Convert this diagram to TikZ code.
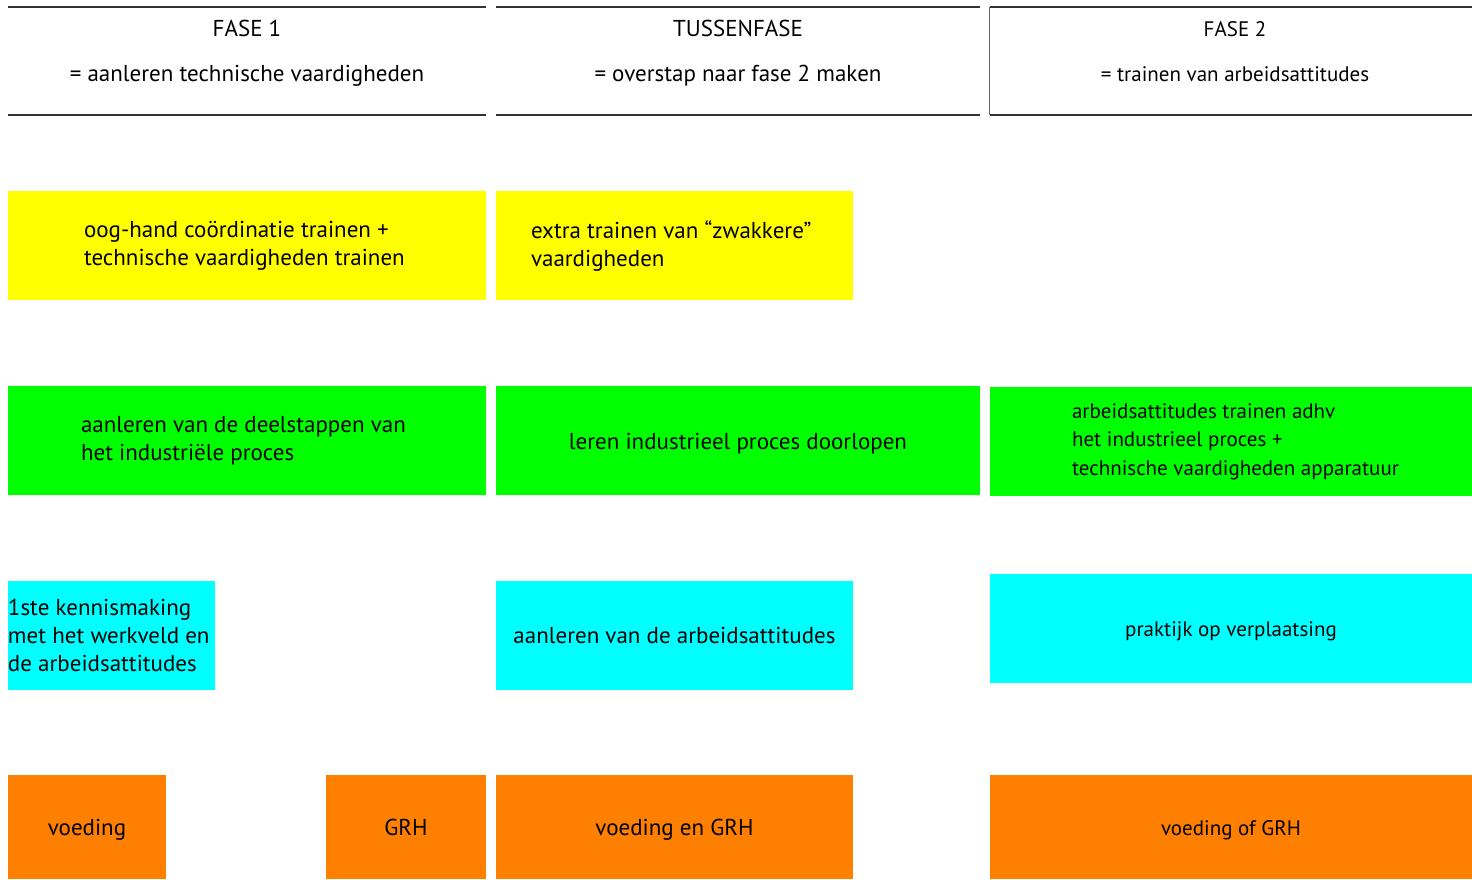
\documentclass[tikz,border=0pt]{standalone}
\usepackage{fontspec}
\setmainfont{PT Sans}
\usetikzlibrary{positioning}

\definecolor{geel}{RGB}{255,255,0}
\definecolor{groen}{RGB}{0,255,0}
\definecolor{cyaan}{RGB}{0,255,255}
\definecolor{oranje}{RGB}{255,128,0}

\begin{document}
\begin{tikzpicture}[
  x=0.5pt, y=-0.5pt,
  font=\fontsize{11.5}{14}\selectfont,
  smal/.style={font=\fontsize{10.5}{14.2}\selectfont},
  kop/.style={minimum width=#1, minimum height=54pt, inner sep=0pt},
  titel/.style={align=center, font=\fontsize{11.5}{22.5}\selectfont},
  blok/.style={minimum height=54.5pt, inner sep=0pt, align=center},
  regel/.style={text height=9pt, text depth=0.5pt},
  tekst/.style={align=left, inner sep=0pt},
  lijn/.style={draw=black!80, line width=1pt}
]
\useasboundingbox (0,0) rectangle (1472,879);

% Kopjes
\node[kop=239pt] (kop1) at (247,61) {};
\node[kop=242pt] (kop2) at (738,61) {};
\node[kop=241pt] (kop3) at (1231,61) {};
\node[titel] (titel1) at (247,53.5) {FASE 1\\= aanleren technische vaardigheden\vphantom{g}};
\node[titel] (titel2) at (738,53.5) {TUSSENFASE\\= overstap naar fase 2 maken\vphantom{g}};
\node[titel, font=\fontsize{10.5}{22.5}\selectfont] (titel3) at (1235,53.5) {FASE 2\\= trainen van arbeidsattitudes\vphantom{g}};

\draw[lijn] (kop1.north west) -- (kop1.north east);
\draw[lijn] (kop1.south west) -- (kop1.south east);
\draw[lijn] (kop2.north west) -- (kop2.north east);
\draw[lijn] (kop2.south west) -- (kop2.south east);
\draw[lijn] (kop3.north west) -- (kop3.north east);
\draw[lijn] (kop3.south west) -- (kop3.south east);
\draw[black!60, line width=0.4pt] (kop3.north west) -- (kop3.south west);

% Rij 1: geel
\node[blok, fill=geel, minimum width=239pt] (geel1) at (247,245.5) {};
\node[tekst, right=38pt of geel1.west] (tgeel1) {oog-hand coördinatie trainen +\\technische vaardigheden trainen};
\node[blok, fill=geel, minimum width=178.5pt] (geel2) at (674.5,245.5) {};
\node[tekst, right=17.5pt of geel2.west] (tgeel2) {extra trainen van “zwakkere”\\vaardigheden};

% Rij 2: groen
\node[blok, fill=groen, minimum width=239pt] (groen1) at (247,440.5) {};
\node[tekst, right=36.5pt of groen1.west] (tgroen1) {aanleren van de deelstappen van\\het industriële proces};
\node[blok, regel, fill=groen, minimum width=242pt] (groen2) at (738,440.5) {leren industrieel proces doorlopen};
\node[blok, fill=groen, minimum width=241pt] (groen3) at (1231,441.5) {};
\node[tekst, smal, right=41pt of groen3.west] (tgroen3) {arbeidsattitudes trainen adhv\\het industrieel proces +\\technische vaardigheden apparatuur};

% Rij 3: cyaan
\node[blok, fill=cyaan, minimum width=103.5pt] (cyaan1) at (111.5,635) {};
\node[tekst, right=0pt of cyaan1.west] (tcyaan1) {1ste kennismaking\\met het werkveld en\\de arbeidsattitudes};
\node[blok, regel, fill=cyaan, minimum width=178.5pt] (cyaan2) at (674.5,635) {aanleren van de arbeidsattitudes};
\node[blok, regel, smal, fill=cyaan, minimum width=241pt] (cyaan3) at (1231,628) {praktijk op verplaatsing};

% Rij 4: oranje
\node[blok, regel, fill=oranje, minimum width=79pt, minimum height=52pt] (oranje1) at (87,827) {voeding};
\node[blok, regel, fill=oranje, minimum width=80pt, minimum height=52pt] (oranje2) at (406,827) {GRH};
\node[blok, regel, fill=oranje, minimum width=178.5pt, minimum height=52pt] (oranje3) at (674.5,827) {voeding en GRH};
\node[blok, regel, smal, fill=oranje, minimum width=241pt, minimum height=52pt] (oranje4) at (1231,827) {voeding of GRH};

\end{tikzpicture}
\end{document}
